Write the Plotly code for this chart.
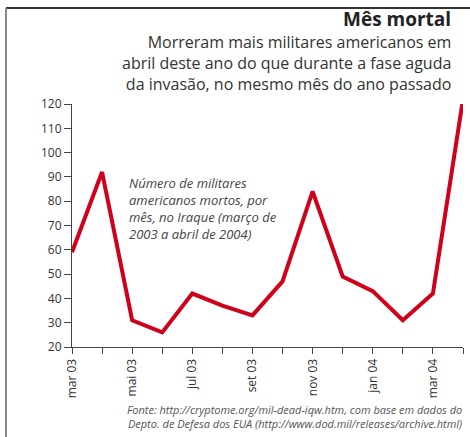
import plotly.graph_objects as go

months = ["mar 03", "abr 03", "mai 03", "jun 03", "jul 03", "ago 03", "set 03",
          "out 03", "nov 03", "dez 03", "jan 04", "fev 04", "mar 04", "abr 04"]
deaths = [59, 92, 31, 26, 42, 37, 33, 47, 84, 49, 43, 31, 42, 122]
tick_labels = [m if i % 2 == 0 else "" for i, m in enumerate(months)]
yticks = [20, 30, 40, 50, 60, 70, 80, 90, 100, 110, 120]

title = "Mês mortal"
subtitle = ["Morreram mais militares americanos em",
            "abril deste ano do que durante a fase aguda",
            "da invasão, no mesmo mês do ano passado"]
note = ["Número de militares", "americanos mortos, por",
        "mês, no Iraque (março de", "2003 a abril de 2004)"]
source = ["Fonte: http://cryptome.org/mil-dead-iqw.htm, com base em dados do",
          "Depto. de Defesa dos EUA (http://www.dod.mil/releases/archive.html)"]

FONT = "Open Sans"
W, H = 470, 437
L, R, T, B = 72, 7, 104, 90

fig = go.Figure()
fig.add_trace(go.Scatter(
    x=list(range(len(months))), y=deaths, mode="lines",
    line=dict(color="#d0021b", width=4), cliponaxis=False, hoverinfo="skip"))

fig.update_layout(
    width=W, height=H, margin=dict(l=L, r=R, t=T, b=B),
    paper_bgcolor="white", plot_bgcolor="white", showlegend=False,
    font=dict(family=FONT, color="#333"),
    xaxis=dict(range=[0, len(months) - 1], tickvals=list(range(len(months))),
               ticktext=tick_labels, tickangle=-90, ticks="outside", ticklen=6,
               tickcolor="#444", showline=True, linecolor="#444", linewidth=1,
               showgrid=False, zeroline=False, tickfont=dict(size=12, color="#333")),
    yaxis=dict(range=[20, 120], tickvals=yticks, ticks="outside", ticklen=7,
               tickcolor="#444", showline=True, linecolor="#444", linewidth=1,
               showgrid=False, zeroline=False, tickfont=dict(size=12, color="#333")),
)


def px_x(x):
    return (x - L) / (W - L - R)


def px_y(y):
    return (H - B - y) / (H - T - B)


# frame
fig.add_shape(type="line", xref="paper", yref="paper",
              x0=px_x(6), x1=px_x(W), y0=px_y(8), y1=px_y(8),
              line=dict(color="#333", width=2))
fig.add_shape(type="line", xref="paper", yref="paper",
              x0=px_x(6), x1=px_x(6), y0=px_y(8), y1=px_y(H),
              line=dict(color="#888", width=2))

fig.add_annotation(xref="paper", yref="paper", x=px_x(453), y=px_y(19),
                   text="<b>" + title + "</b>", showarrow=False, xanchor="right",
                   yanchor="middle", font=dict(size=19, color="#222", family=FONT))
fig.add_annotation(xref="paper", yref="paper", x=px_x(453), y=px_y(63.5),
                   text="<br>".join(subtitle), showarrow=False, xanchor="right",
                   yanchor="middle", align="right",
                   font=dict(size=16, color="#333", family=FONT))
fig.add_annotation(xref="paper", yref="paper", x=px_x(127), y=px_y(208),
                   text="<i>" + "<br>".join(note) + "</i>", showarrow=False,
                   xanchor="left", yanchor="middle", align="left",
                   font=dict(size=13, color="#444", family=FONT))
fig.add_annotation(xref="paper", yref="paper", x=px_x(464), y=px_y(416),
                   text="<i>" + "<br>".join(source) + "</i>", showarrow=False,
                   xanchor="right", yanchor="middle", align="right",
                   font=dict(size=11, color="#555", family=FONT))

fig.write_html("out.html", config={"displayModeBar": False},
               post_script="document.body.style.margin='0';")
